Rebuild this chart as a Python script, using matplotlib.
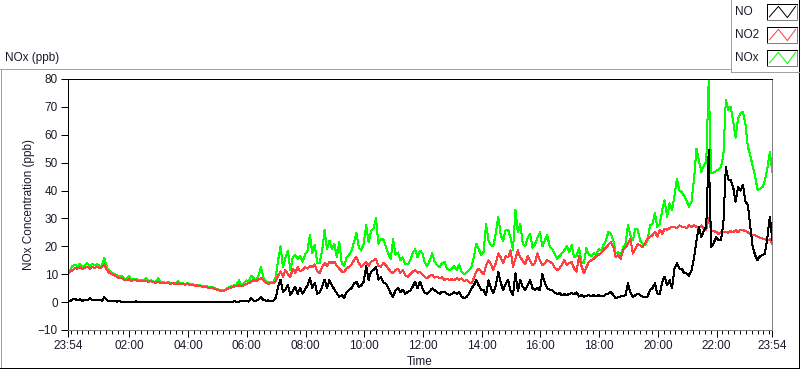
import matplotlib
matplotlib.use("Agg")
import matplotlib.pyplot as plt
import matplotlib.dates as mdates
from matplotlib.lines import Line2D
import pandas as pd

# 5-minute readings starting at 23:54, one row per hour
start_time = "2000-01-01 23:54"
end_time = "2000-01-02 23:54"
step = "5min"

no2_ppb = [
    10.3, 10.8, 11.5, 12.2, 12.0, 12.5, 11.8, 12.3, 12.7, 12.0, 12.5, 12.3,
    12.7, 12.2, 12.5, 13.5, 11.5, 10.5, 10.0, 9.7, 9.2, 8.5, 8.8, 8.0,
    7.9, 8.2, 7.6, 8.0, 7.8, 7.5, 7.7, 7.4, 7.6, 7.3, 7.5, 7.1,
    7.0, 7.2, 6.8, 7.0, 6.7, 6.9, 6.6, 6.8, 6.5, 6.7, 6.4, 6.6,
    6.3, 6.5, 6.1, 6.2, 5.9, 6.0, 5.7, 5.5, 5.6, 5.3, 5.0, 5.2,
    4.8, 4.5, 4.2, 3.9, 4.1, 4.5, 5.0, 5.3, 5.6, 5.8, 6.0, 5.7,
    6.0, 6.5, 6.8, 7.2, 8.0, 7.5, 8.3, 8.5, 7.8, 7.0, 6.5, 6.8,
    6.8, 7.5, 9.5, 11.0, 9.0, 11.5, 10.0, 9.0, 12.0, 10.5, 12.5, 11.0,
    11.5, 12.5, 12.0, 13.0, 12.5, 13.5, 11.0, 10.5, 12.5, 14.0, 13.0, 14.5,
    14.0, 14.5, 13.0, 12.0, 11.0, 10.8, 12.0, 12.7, 13.5, 15.0, 16.2, 14.0,
    12.7, 13.5, 14.5, 13.0, 14.4, 15.0, 15.6, 13.0, 12.7, 14.0, 13.3, 12.0,
    11.0, 10.3, 11.5, 12.0, 10.5, 11.5, 9.5, 9.1, 10.0, 10.9, 11.5, 10.5,
    10.9, 10.0, 9.0, 8.5, 9.5, 9.8, 8.8, 9.1, 8.5, 9.0, 7.9, 8.4,
    7.9, 8.2, 7.9, 8.6, 8.0, 8.5, 7.5, 8.0, 7.2, 6.7, 8.5, 10.9,
    12.0, 11.0, 10.0, 13.0, 15.0, 13.5, 11.5, 14.0, 17.5, 16.0, 14.0, 16.5,
    16.0, 18.6, 12.7, 15.5, 18.6, 16.0, 14.8, 13.5, 16.5, 15.0, 13.2, 14.0,
    17.5, 15.0, 13.2, 14.0, 15.0, 14.5, 14.0, 12.5, 11.5, 12.0, 13.5, 15.0,
    13.2, 14.0, 14.3, 12.0, 10.9, 16.5, 13.0, 10.3, 12.5, 14.3, 15.0, 15.5,
    16.5, 17.0, 17.5, 18.6, 19.5, 20.5, 21.6, 19.8, 16.2, 16.8, 15.5, 18.6,
    19.5, 21.0, 22.8, 17.4, 19.0, 20.8, 20.4, 19.8, 21.0, 22.8, 23.4, 24.0,
    25.2, 23.5, 26.0, 24.5, 26.4, 26.0, 26.5, 27.0, 27.0, 26.5, 27.5, 27.0,
    27.0, 26.5, 27.5, 27.0, 27.6, 27.0, 26.5, 27.5, 26.4, 26.0, 30.0, 25.5,
    25.5, 25.2, 24.5, 25.0, 25.2, 25.2, 24.8, 25.5, 25.0, 25.8, 25.0, 26.0,
    25.8, 25.5, 25.0, 24.5, 24.0, 24.0, 23.5, 23.0, 22.8, 22.5, 22.0, 22.5, 21.0,
]

no_ppb = [
    0.5, 0.4, 0.9, 1.2, 0.6, 1.0, 0.5, 0.8, 0.6, 1.4, 0.7, 0.9,
    0.6, 0.8, 0.5, 1.8, 0.7, 0.4, 0.3, 0.4, 0.2, 0.3, 0.1, 0.2,
    0.1, 0.0, 0.2, 0.1, 0.3, 0.0, 0.1, 0.2, 0.0, 0.1, 0.2, 0.0,
    0.1, 0.2, 0.0, 0.1, 0.0, 0.2, 0.1, 0.0, 0.1, 0.0, 0.2, 0.1,
    0.0, 0.1, 0.1, 0.0, 0.2, 0.0, 0.1, 0.0, 0.1, 0.1, 0.0, 0.2,
    0.1, 0.0, 0.2, 0.1, 0.0, 0.1, 0.2, 0.0, 0.3, 0.1, 0.2, 0.4,
    0.3, 0.5, 0.2, 1.5, 0.6, 0.4, 1.0, 1.8, 0.8, 0.5, 0.6, 0.3,
    0.5, 1.5, 5.5, 8.0, 3.5, 4.5, 6.0, 2.5, 4.0, 5.5, 3.0, 5.0,
    3.0, 4.5, 6.0, 8.5, 5.0, 7.0, 3.0, 3.5, 5.5, 8.0, 5.0, 7.9,
    6.0, 4.5, 3.2, 1.9, 2.5, 1.5, 3.5, 4.3, 5.0, 6.7, 7.3, 5.5,
    6.0, 7.3, 13.0, 8.0, 10.9, 11.5, 12.7, 8.0, 9.0, 7.0, 6.7, 5.0,
    3.2, 1.9, 4.3, 5.0, 3.5, 4.5, 3.0, 3.7, 4.0, 5.5, 7.3, 5.0,
    7.3, 5.0, 3.2, 3.0, 4.0, 4.9, 4.3, 3.5, 3.0, 3.8, 3.7, 3.0,
    2.5, 3.0, 3.5, 3.0, 3.7, 2.0, 1.4, 1.8, 3.0, 4.9, 6.0, 7.9,
    6.0, 4.5, 4.3, 2.5, 7.9, 5.0, 3.2, 6.0, 10.9, 7.0, 4.3, 6.5,
    7.9, 4.0, 2.5, 10.3, 4.0, 7.9, 5.5, 4.3, 6.0, 7.9, 5.0, 4.3,
    5.0, 4.3, 10.0, 7.0, 5.0, 4.5, 4.3, 3.5, 3.0, 3.2, 2.5, 2.8,
    2.5, 3.0, 3.2, 2.8, 3.5, 2.0, 2.5, 1.9, 2.2, 2.5, 2.0, 2.5,
    2.0, 2.5, 2.2, 2.2, 2.8, 3.0, 3.7, 2.5, 1.3, 1.9, 2.0, 2.2,
    2.5, 6.7, 3.5, 1.8, 2.5, 3.1, 2.5, 2.0, 1.8, 2.0, 4.3, 5.0,
    6.7, 3.1, 3.0, 7.3, 9.1, 6.0, 7.9, 4.9, 12.0, 13.9, 12.0, 12.0,
    10.3, 10.3, 9.5, 11.5, 16.0, 22.0, 27.0, 23.4, 25.6, 27.0, 54.5, 19.8,
    21.0, 23.4, 22.2, 22.2, 28.2, 48.5, 44.0, 43.7, 41.3, 36.0, 41.3, 40.0,
    42.0, 36.2, 34.8, 27.0, 19.8, 16.8, 15.0, 16.5, 16.8, 17.4, 23.4, 30.6, 22.2,
]

nox_ppb = [
    10.8, 11.5, 13.0, 13.5, 12.8, 13.8, 12.5, 13.2, 14.0, 13.0, 13.8, 13.2,
    13.5, 13.0, 13.2, 15.8, 12.5, 11.2, 10.5, 10.2, 9.6, 9.0, 9.5, 8.4,
    8.2, 9.5, 7.9, 8.3, 8.4, 7.7, 8.0, 7.8, 8.5, 7.5, 7.8, 7.3,
    7.2, 8.6, 7.0, 7.2, 6.9, 7.3, 6.8, 7.0, 6.7, 7.5, 6.6, 6.8,
    6.5, 6.8, 6.3, 6.4, 6.2, 6.2, 6.0, 5.7, 5.8, 5.6, 5.2, 5.5,
    5.0, 4.7, 4.4, 4.1, 4.3, 4.8, 5.3, 5.8, 6.0, 6.2, 7.8, 6.2,
    6.5, 7.8, 7.2, 9.5, 8.6, 8.0, 9.5, 12.5, 8.8, 7.5, 7.2, 7.1,
    7.3, 9.0, 15.0, 20.0, 12.5, 16.0, 18.5, 11.5, 16.0, 17.0, 15.5, 16.5,
    14.5, 17.0, 18.5, 24.0, 17.5, 20.5, 14.0, 14.0, 18.5, 25.8, 19.0, 22.0,
    19.0, 21.0, 16.0, 21.6, 14.0, 13.0, 16.0, 17.0, 18.5, 21.5, 24.7, 19.5,
    18.5, 21.0, 27.6, 21.5, 25.5, 26.5, 30.0, 21.0, 22.5, 22.5, 20.0, 17.5,
    15.5, 22.5, 17.0, 17.8, 15.0, 16.0, 13.5, 13.5, 15.0, 17.5, 19.0, 16.0,
    18.5, 17.5, 14.0, 13.0, 15.0, 17.5, 14.5, 13.3, 12.5, 14.0, 14.4, 12.0,
    11.5, 12.0, 13.0, 11.5, 13.5, 11.0, 10.0, 10.5, 11.5, 12.5, 16.0, 21.0,
    19.0, 17.0, 18.0, 28.0, 22.0, 20.5, 20.0, 25.0, 30.6, 24.0, 22.0, 26.0,
    26.0, 23.0, 18.6, 33.0, 25.0, 28.0, 21.0, 20.0, 23.0, 24.4, 19.5, 20.7,
    23.0, 25.0, 20.0, 22.0, 24.0, 20.0, 19.0, 17.5, 15.5, 16.5, 17.5, 18.6,
    20.0, 18.0, 20.5, 16.0, 16.5, 19.5, 14.3, 14.0, 19.4, 17.0, 16.5, 17.5,
    17.0, 19.0, 18.5, 20.5, 22.0, 25.2, 24.5, 22.2, 17.4, 18.0, 16.5, 19.5,
    21.0, 27.6, 24.0, 22.2, 26.4, 26.0, 22.0, 21.0, 20.4, 22.2, 27.6, 28.0,
    31.8, 27.0, 28.0, 33.0, 36.5, 30.6, 35.4, 33.0, 38.0, 44.3, 40.0, 39.5,
    38.0, 36.2, 34.2, 36.2, 44.0, 55.0, 50.9, 46.7, 49.0, 50.3, 79.6, 46.2,
    46.5, 47.0, 47.6, 48.5, 52.7, 72.4, 69.0, 70.0, 65.0, 59.0, 66.0, 67.6,
    68.2, 64.0, 55.7, 52.7, 48.5, 45.0, 40.1, 40.7, 41.3, 43.7, 48.0, 53.9, 46.7,
]

series_names = ["NO", "NO2", "NOx"]
series_colors = ["#000000", "#ff4040", "#00ff00"]

FONT = "Liberation Sans"
TEXT_COLOR = "#1a1a2a"
FS = 8.5
LW = 0.72  # one pixel at 100 dpi
plt.rcParams["font.family"] = [FONT, "DejaVu Sans"]

times = pd.date_range(start_time, periods=len(no_ppb), freq=step)

fig = plt.figure(figsize=(8.0, 3.69), dpi=100)
W, H = 800.0, 369.0

def fx(px):
    return px / W

def fy(py):
    return 1.0 - py / H

ax = fig.add_axes([fx(67.7), fy(330), fx(772.3) - fx(67.7), fy(79) - fy(330)])

# NOx behind, NO2 over it, NO on top
ax.plot(times, nox_ppb, color=series_colors[2], lw=LW, antialiased=False)
ax.plot(times, no2_ppb, color=series_colors[1], lw=LW, antialiased=False)
ax.plot(times, no_ppb, color=series_colors[0], lw=LW, antialiased=False)

t0 = pd.Timestamp(start_time)
t1 = pd.Timestamp(end_time)
ax.set_xlim(t0, t1)
ax.set_ylim(-10, 80)
ax.set_yticks(range(-10, 81, 10))

major = [t0] + list(pd.date_range("2000-01-02 02:00", "2000-01-02 22:00", freq="2h")) + [t1]
minor = pd.date_range("2000-01-02 00:00", t1, freq="12min")
ax.set_xticks(major)
ax.set_xticks(minor, minor=True)
ax.xaxis.set_major_formatter(mdates.DateFormatter("%H:%M"))

ax.tick_params(axis="both", which="major", direction="out", length=5, width=LW,
               color="#000000", labelsize=FS, labelcolor=TEXT_COLOR, pad=2)
ax.tick_params(axis="x", which="minor", direction="out", length=3, width=LW, color="#000000")

ax.spines["top"].set_color("#000000")
ax.spines["left"].set_color("#000000")
ax.spines["right"].set_color("#808080")
ax.spines["bottom"].set_color("#808080")
for s in ax.spines.values():
    s.set_linewidth(LW)

ax.set_ylabel("NOx Concentration (ppb)", fontsize=FS, color=TEXT_COLOR, labelpad=2)
ax.set_xlabel("Time", fontsize=FS, color=TEXT_COLOR, labelpad=3)

# chart title and outer frame
fig.text(fx(5), fy(58), "NOx (ppb)", fontsize=FS, color=TEXT_COLOR, va="center", ha="left")
fig.add_artist(Line2D([fx(0.5), fx(0.5)], [fy(69), fy(367.5)], color="#a0a0a0", lw=LW))
fig.add_artist(Line2D([fx(0), fx(730)], [fy(69), fy(69)], color="#a0a0a0", lw=LW))
fig.add_artist(Line2D([fx(0), fx(798.5)], [fy(367.5), fy(367.5)], color="#000000", lw=LW))
fig.add_artist(Line2D([fx(798.5), fx(798.5)], [fy(0), fy(367.5)], color="#000000", lw=LW))

# legend panel
fig.add_artist(Line2D([fx(730.5), fx(730.5)], [fy(0), fy(72)], color="#a0a0a0", lw=LW))
fig.add_artist(Line2D([fx(730.5), fx(798.5)], [fy(72), fy(72)], color="#a0a0a0", lw=LW))
for i, (name, col) in enumerate(zip(series_names, series_colors)):
    top = 4 + 23 * i
    fig.text(fx(735), fy(top + 8), name, fontsize=FS, color=TEXT_COLOR, va="center", ha="left")
    sw = fig.add_axes([fx(767), fy(top + 16), fx(797) - fx(767), fy(top) - fy(top + 16)])
    sw.plot([0.08, 0.38, 0.68, 0.95], [0.2, 0.85, 0.15, 0.85], color=col, lw=LW)
    sw.set_xlim(0, 1)
    sw.set_ylim(0, 1)
    sw.set_xticks([])
    sw.set_yticks([])
    sw.spines["top"].set_color("#000000")
    sw.spines["left"].set_color("#000000")
    sw.spines["right"].set_color("#808080")
    sw.spines["bottom"].set_color("#808080")
    for s in sw.spines.values():
        s.set_linewidth(LW)

fig.savefig("out.png", dpi=100)
